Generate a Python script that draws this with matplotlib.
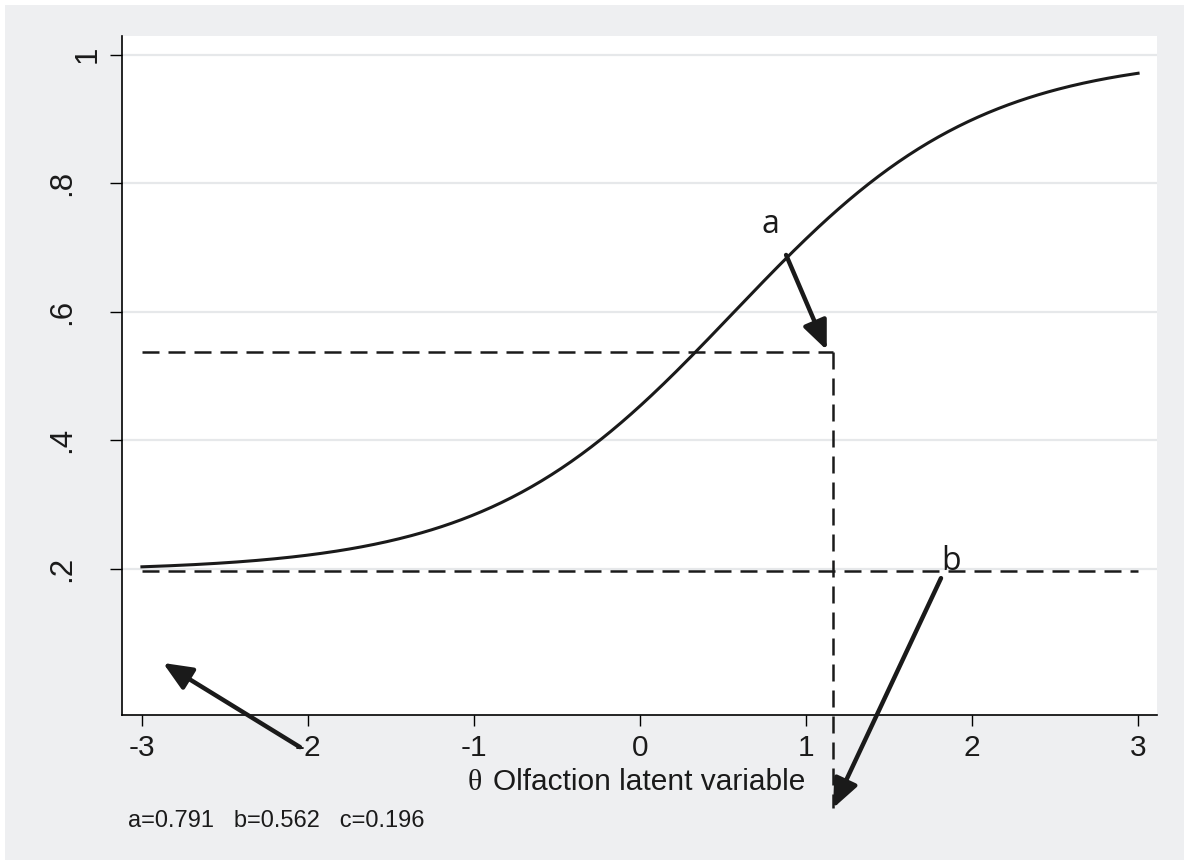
import numpy as np
import matplotlib
matplotlib.use("Agg")
import matplotlib.pyplot as plt
from matplotlib.patches import Rectangle
from matplotlib import transforms

# 3PL item parameters
a_par = 0.791
b_par = 0.562
c_par = 0.196

x_ticks = [-3, -2, -1, 0, 1, 2, 3]
x_ticklabels = ["-3", "-2", "-1", "0", "1", "2", "3"]
y_ticks = [0.2, 0.4, 0.6, 0.8, 1.0]
y_ticklabels = [".2", ".4", ".6", ".8", "1"]

# guide lines
guide_y = 0.537
guide_x = 1.162
guide_bottom = -0.173

# annotation arrows: (tail_x, tail_y, head_x, head_y)
arrows = [
    (0.880, 0.688, 1.125, 0.540),
    (1.813, 0.185, 1.163, -0.173),
    (-2.048, -0.078, -2.873, 0.053),
]
letters = ["a", "b"]
letter_pos = [(0.783, 0.735), (1.873, 0.211)]

theta = np.linspace(-3, 3, 400)
prob = c_par + (1 - c_par) / (1 + np.exp(-1.7 * a_par * (theta - b_par)))

W, H = 1184, 865
fig = plt.figure(figsize=(W / 100, H / 100), dpi=100, facecolor="white")
fig.patches.append(Rectangle((5 / W, 5 / H), (W - 5) / W, (H - 10) / H,
                             transform=fig.transFigure, facecolor="#eeeff1",
                             edgecolor="none", zorder=-10))

ax = fig.add_axes([122 / W, 1 - 715 / H, 1035 / W, 679 / H])
ax.set_zorder(1)
ax.set_facecolor("white")
ax.set_xlim(-3.120, 3.114)
ax.set_ylim(-0.028, 1.0288)

for s in ["top", "right"]:
    ax.spines[s].set_visible(False)
for s in ["left", "bottom"]:
    ax.spines[s].set_linewidth(1.2)
    ax.spines[s].set_color("black")

for yt in y_ticks:
    ax.axhline(yt, color="#e6e8ea", lw=1.6, zorder=0.5)

ax.set_xticks(x_ticks, x_ticklabels)
ax.tick_params(axis="x", length=8, width=1.0, pad=6, labelsize=21.5)
for lab in ax.get_xticklabels():
    lab.set_family("Liberation Sans")
    lab.set_color("#1a1a1a")

ax.set_yticks(y_ticks, [""] * len(y_ticks))
ax.tick_params(axis="y", length=8.6, width=1.0)
trans = transforms.blended_transform_factory(ax.transAxes, ax.transData)
for yt, lab in zip(y_ticks, y_ticklabels):
    xpos = -0.0333 if lab == "1" else -0.058
    ax.text(xpos, yt, lab, transform=trans, rotation=90, ha="center",
            va="center", fontsize=22.5, family="Liberation Sans", color="#1a1a1a")

# curve and guides
ax.plot(theta, prob, color="#1a1a1a", lw=2.2, zorder=3)
ax.plot([x_ticks[0], x_ticks[-1]], [c_par, c_par], color="#1a1a1a", lw=1.8,
        dashes=(6.8, 3.6), zorder=3)
ax.plot([x_ticks[0], guide_x], [guide_y, guide_y], color="#1a1a1a", lw=1.8,
        dashes=(6.8, 3.6), zorder=3)
ax.plot([guide_x, guide_x], [guide_y, guide_bottom], color="#1a1a1a", lw=1.8,
        dashes=(6.8, 3.6), zorder=3, clip_on=False)

for tx, ty, hx, hy in arrows:
    ax.annotate("", xy=(hx, hy), xytext=(tx, ty),
                arrowprops=dict(arrowstyle="-|>,head_length=0.7,head_width=0.3",
                                mutation_scale=25, lw=3.2, color="#1a1a1a",
                                shrinkA=0, shrinkB=0),
                annotation_clip=False, zorder=4)

for txt, (lx, ly) in zip(letters, letter_pos):
    ax.text(lx, ly, txt, ha="center", va="center", fontsize=23,
            family="Open Sans", color="#1a1a1a", zorder=5)

# axis title, theta drawn in serif
ax.text((468 - 122) / 1035, (715 - 790) / 679, "\u03b8", transform=ax.transAxes,
        ha="left", va="baseline", fontsize=21.5, family="Liberation Serif",
        color="#1a1a1a")
ax.text((493 - 122) / 1035, (715 - 790) / 679, "Olfaction latent variable",
        transform=ax.transAxes, ha="left", va="baseline", fontsize=21.5,
        family="Liberation Sans", color="#1a1a1a")

ax.text((128 - 122) / 1035, (715 - 827) / 679,
        "a=%.3f   b=%.3f   c=%.3f" % (a_par, b_par, c_par),
        transform=ax.transAxes, ha="left", va="baseline", fontsize=17,
        family="Liberation Sans", color="#1a1a1a")

fig.savefig("out.png", dpi=100, facecolor=fig.get_facecolor())
